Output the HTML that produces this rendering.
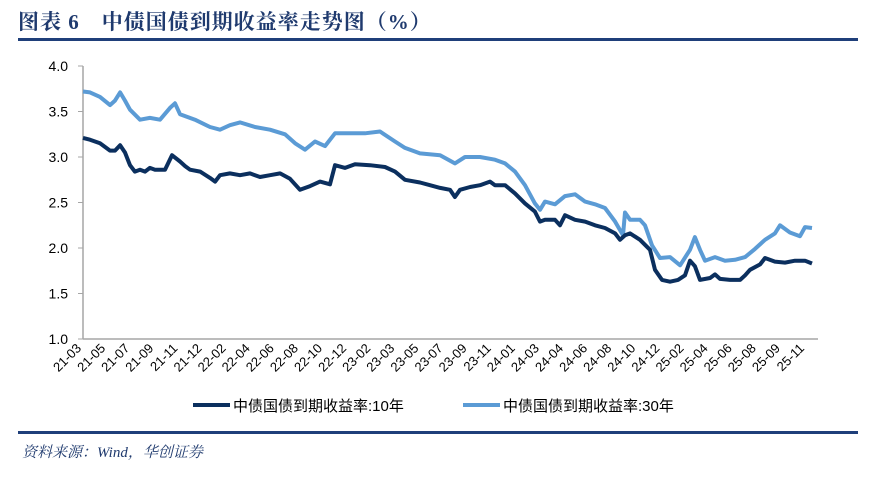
<!DOCTYPE html>
<html><head><meta charset="utf-8">
<style>
body{margin:0;background:#fff;width:876px;height:475px;overflow:hidden;font-family:"Liberation Sans","Noto Sans CJK SC",sans-serif;}
</style></head>
<body>
<svg id="c" width="876" height="475" xmlns="http://www.w3.org/2000/svg">
<text x="18" y="29" font-family="'Liberation Serif','Noto Serif CJK SC',serif" font-weight="bold" font-size="21" letter-spacing="1" fill="#1f3a6e">图表 6　中债国债到期收益率走势图（%）</text>
<rect x="18" y="38" width="840" height="3" fill="#1f3f7a"/>
<rect x="18" y="431" width="840" height="3" fill="#1f3f7a"/>
<text x="22" y="457" font-family="'Liberation Serif','Noto Serif CJK SC',serif" font-style="italic" font-size="15" fill="#1f3a6e">资料来源：Wind，华创证券</text>
<g id="axes"></g>
<g id="lines"></g>
<g id="legend">
<line x1="193" y1="405" x2="230" y2="405" stroke="#0b2f5e" stroke-width="4"/>
<text x="233" y="411" font-size="15" fill="#000">中债国债到期收益率:10年</text>
<line x1="463" y1="405" x2="500" y2="405" stroke="#5b9bd5" stroke-width="4"/>
<text x="503" y="411" font-size="15" fill="#000">中债国债到期收益率:30年</text>
</g>
</svg>
<script>
const xLabels=["21-03","21-05","21-07","21-09","21-11","21-12","22-02","22-04","22-06","22-08","22-10","22-12","23-02","23-03","23-05","23-07","23-09","23-11","24-01","24-03","24-04","24-06","24-08","24-10","24-12","25-02","25-04","25-06","25-08","25-09","25-11"];
const yTicks=[1.0,1.5,2.0,2.5,3.0,3.5,4.0];
// time in months since 2021-03
const t10=[0,0.54,1.30,2.07,2.45,2.84,3.22,3.60,3.98,4.37,4.75,5.13,5.52,6.28,6.82,7.43,7.82,8.20,8.97,9.73,10.12,10.50,11.26,12.03,12.80,13.56,14.33,15.10,15.86,16.63,17.40,18.16,18.93,19.31,20.08,20.84,21.99,23.14,23.91,24.67,25.82,26.59,27.36,28.12,28.50,28.89,29.66,30.42,31.19,31.57,32.34,33.10,33.87,34.63,35.02,35.40,36.17,36.55,36.93,37.70,38.47,39.23,40.00,40.77,41.15,41.53,41.92,42.68,43.45,43.83,44.37,44.98,45.59,46.13,46.51,46.89,47.28,48.05,48.43,48.81,49.58,50.35,50.73,51.11,51.88,52.26,53.02,53.79,54.56,55.32,55.86];
const y10=[3.21,3.19,3.15,3.07,3.07,3.13,3.05,2.91,2.84,2.86,2.84,2.88,2.86,2.86,3.02,2.95,2.90,2.86,2.84,2.77,2.73,2.80,2.82,2.80,2.82,2.78,2.80,2.82,2.76,2.64,2.68,2.73,2.70,2.91,2.88,2.92,2.91,2.89,2.84,2.75,2.72,2.69,2.66,2.64,2.56,2.64,2.67,2.69,2.73,2.69,2.69,2.60,2.49,2.40,2.29,2.31,2.31,2.25,2.36,2.31,2.29,2.25,2.22,2.16,2.09,2.14,2.16,2.09,1.98,1.76,1.65,1.63,1.65,1.70,1.86,1.80,1.65,1.67,1.71,1.66,1.65,1.65,1.70,1.76,1.82,1.89,1.85,1.84,1.86,1.86,1.83];
const t30=[0,0.54,1.30,2.07,2.45,2.84,3.22,3.60,4.37,5.13,5.90,6.67,7.05,7.43,8.58,9.73,10.50,11.26,12.03,13.18,14.33,15.48,16.25,17.01,17.78,18.54,19.31,20.46,21.61,22.76,23.91,24.67,25.82,27.36,28.50,29.27,30.42,31.57,32.34,33.10,33.87,34.63,35.02,35.40,36.17,36.93,37.70,38.47,39.23,40.00,40.77,41.38,41.53,41.92,42.68,43.06,43.60,44.21,44.98,45.75,46.51,46.89,47.28,47.66,48.43,49.19,49.96,50.73,51.49,52.26,53.02,53.41,54.17,54.94,55.32,55.86];
const y30=[3.72,3.71,3.66,3.57,3.62,3.71,3.62,3.52,3.41,3.43,3.41,3.54,3.59,3.47,3.41,3.33,3.30,3.35,3.38,3.33,3.30,3.25,3.15,3.08,3.17,3.12,3.26,3.26,3.26,3.28,3.17,3.10,3.04,3.02,2.93,3.00,3.00,2.97,2.93,2.84,2.69,2.49,2.42,2.51,2.48,2.57,2.59,2.51,2.48,2.44,2.29,2.14,2.39,2.31,2.31,2.25,2.03,1.89,1.90,1.81,1.98,2.12,1.98,1.86,1.90,1.86,1.87,1.90,1.99,2.09,2.16,2.25,2.17,2.13,2.23,2.22];
const X0=83,X1=812,TMAX=55.86,Y0=339,Y1=66;
const xs=t=>X0+(t/TMAX)*(X1-X0);
const ys=v=>Y0-(v-1)/(4-1)*(Y0-Y1);
const NS="http://www.w3.org/2000/svg";
const axes=document.getElementById('axes'),lines=document.getElementById('lines');
function mk(tag,attrs,parent){const e=document.createElementNS(NS,tag);for(const k in attrs)e.setAttribute(k,attrs[k]);parent.appendChild(e);return e;}
let yl=mk('line',{x1:X0,y1:Y1,x2:X0,y2:Y0,stroke:'#a6a6a6','stroke-width':1.5},axes);


let xl=mk('line',{x1:X0,y1:Y0,x2:818,y2:Y0,stroke:'#a6a6a6','stroke-width':1.5},axes);


yTicks.forEach(v=>{
  const tk=mk('line',{x1:X0-5,y1:ys(v),x2:X0,y2:ys(v),stroke:'#a6a6a6','stroke-width':1},axes);
  
  
  const tx=mk('text',{x:X0-15,y:ys(v)+5,'text-anchor':'end','font-size':14,fill:'#000'},axes);
  tx.textContent=v.toFixed(1);
  
  
});
xLabels.forEach((s,i)=>{
  const x=82+i*(805-82)/(xLabels.length-1),y=349;
  const tx=mk('text',{x:x,y:y,'text-anchor':'end','font-size':13,fill:'#000',transform:`rotate(-45 ${x} ${y})`},axes);
  tx.textContent=s;
  
  
});
function draw(ts,vs,color,name){
  const d=ts.map((t,i)=>(i?'L':'M')+xs(t).toFixed(1)+' '+ys(vs[i]).toFixed(1)).join(' ');
  const p=mk('path',{d:d,fill:'none',stroke:color,'stroke-width':4,'stroke-linejoin':'round'},lines);
  
  
}
draw(t30,y30,'#5b9bd5','line-30y');
draw(t10,y10,'#0b2f5e','line-10y');
</script>
</body></html>
